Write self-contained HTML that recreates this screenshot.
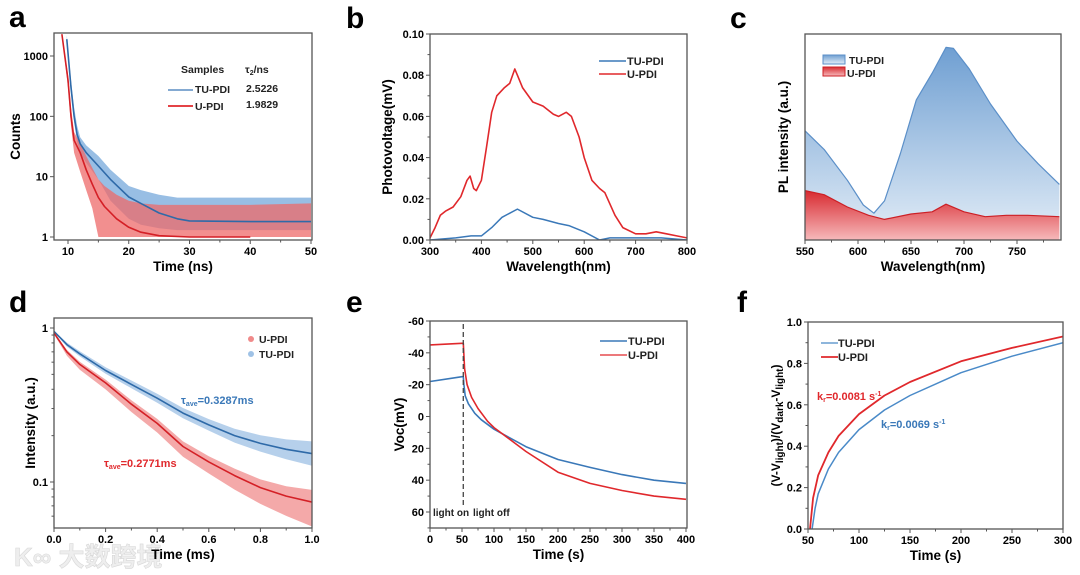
<!DOCTYPE html>
<html><head><meta charset="utf-8"><style>
body{margin:0;background:#fff;width:1080px;height:570px;overflow:hidden}
svg{font-family:"Liberation Sans",Arial,sans-serif;font-weight:bold}
</style></head><body>
<svg id="chart" width="1080" height="570" viewBox="0 0 1080 570" xmlns="http://www.w3.org/2000/svg">
<defs>
<linearGradient id="gb" x1="0" y1="0" x2="0" y2="1"><stop offset="0" stop-color="#6f9fd2"/><stop offset="1" stop-color="#e3edf7"/></linearGradient>
<linearGradient id="gr" x1="0" y1="0" x2="0" y2="1"><stop offset="0" stop-color="#d82a30"/><stop offset="1" stop-color="#f6b9bb"/></linearGradient>
</defs>
<text x="9" y="27" font-size="30">a</text>
<text x="346" y="28" font-size="30">b</text>
<text x="730" y="28" font-size="30">c</text>
<text x="9" y="312" font-size="30">d</text>
<text x="346" y="312" font-size="30">e</text>
<text x="737" y="312" font-size="30">f</text>
<text x="14" y="566" font-size="26" fill="#eeeeee" stroke="#d8d8d8" stroke-width="0.6" font-family="'Liberation Sans','Noto Sans CJK SC',sans-serif">K∞ 大数跨境</text>
</svg>
<script>
// ---- panel a data ----
const aBlueT=[9.8,10.5,11,11.5,12,13,15,17,20,22,25,28,30,40,50];
const aBlueFit=[1900,300,100,50,35,25,15,9,4.6,3.6,2.5,2.0,1.85,1.8,1.8];
const aBlueUp=[2200,400,140,70,45,33,22,13,7,6,5,4.5,4.5,4.5,4.5];
const aBlueLo=[1700,250,80,38,25,17,9,4,2,1.6,1.4,1.3,1.3,1.3,1.3];
const aRedT=[9,10,10.5,11,12,13,14,15,16,18,20,22,25,30,40,50];
const aRedFit=[2300,400,100,40,25,13,7.5,4.5,3.2,2.0,1.45,1.2,1.05,1.0,1.0,1.0];
const aRedUp=[2400,500,140,55,35,22,14,9,7,5,4,3.6,3.4,3.4,3.4,3.6];
const aRedLo=[2100,300,70,25,12,6,3,1,1,1,1,1,1,1,1,1];
// ---- panel b data ----
const bRedW=[300,310,320,330,345,360,372,378,385,390,400,410,420,430,445,455,465,470,480,500,520,540,550,565,575,590,600,615,630,640,660,675,700,720,740,760,780,800];
const bRedV=[0.001,0.006,0.012,0.014,0.016,0.021,0.029,0.031,0.025,0.024,0.029,0.045,0.062,0.070,0.074,0.076,0.083,0.080,0.074,0.067,0.065,0.061,0.060,0.062,0.060,0.050,0.040,0.029,0.025,0.023,0.012,0.006,0.003,0.003,0.004,0.003,0.002,0.001];
const bBlueW=[300,350,380,400,420,440,470,500,520,550,570,600,630,650,700,750,800];
const bBlueV=[0.000,0.001,0.002,0.002,0.006,0.011,0.015,0.011,0.010,0.008,0.007,0.004,0.000,0.001,0.001,0.001,0.000];
// ---- panel c data ----
const cBlueW=[550,568,590,605,615,625,640,655,670,683,690,705,725,750,770,790];
const cBlueV=[0.53,0.44,0.29,0.17,0.13,0.19,0.42,0.68,0.81,0.935,0.93,0.83,0.66,0.48,0.37,0.27];
const cRedW=[550,568,590,610,625,650,670,683,700,720,740,760,790];
const cRedV=[0.24,0.22,0.16,0.12,0.10,0.126,0.137,0.174,0.137,0.113,0.12,0.12,0.113];
// ---- panel d data ----
const dT=[0,0.05,0.1,0.2,0.3,0.4,0.5,0.6,0.7,0.8,0.9,1.0];
const dBlue=[0.95,0.78,0.68,0.53,0.43,0.35,0.28,0.235,0.2,0.178,0.163,0.153];
const dRed=[0.93,0.7,0.58,0.44,0.32,0.24,0.17,0.135,0.11,0.092,0.081,0.074];
const dSpread=[1.01,1.03,1.04,1.05,1.06,1.07,1.08,1.09,1.11,1.13,1.16,1.2];
// ---- panel e data ----
const eBlueT=[0,50,52,53,55,60,70,80,100,150,200,250,300,350,400];
const eBlueV=[-22,-25,-25,-20,-13,-8,-2,2,8,19,27,32,36.5,40,42];
const eRedT=[0,50,52,54,58,65,75,90,100,150,200,250,300,350,400];
const eRedV=[-45,-46,-46,-30,-20,-12,-5,3,7,22,35,42,46.5,50,52];
// ---- panel f data ----
const fRedT=[52,55,60,70,80,100,125,150,200,250,300];
const fRedV=[0,0.15,0.26,0.37,0.45,0.555,0.645,0.71,0.81,0.875,0.93];
const fBlueT=[54,57,60,70,80,100,125,150,200,250,300];
const fBlueV=[0,0.1,0.17,0.29,0.37,0.48,0.575,0.645,0.755,0.835,0.90];

const NS='http://www.w3.org/2000/svg';
const svg=document.getElementById('chart');
function mk(tag,attrs,txt){const e=document.createElementNS(NS,tag);for(const k in attrs)e.setAttribute(k,attrs[k]);if(txt!==undefined)e.textContent=txt;svg.appendChild(e);return e;}
function lin(d0,d1,r0,r1){return v=>r0+(v-d0)*(r1-r0)/(d1-d0);}
function lg(d0,d1,r0,r1){return v=>r0+(Math.log10(v)-Math.log10(d0))*(r1-r0)/(Math.log10(d1)-Math.log10(d0));}
function pts(xs,ys,sx,sy){return xs.map((x,i)=>sx(x).toFixed(1)+','+sy(ys[i]).toFixed(1));}
const BLUE='#3a78b8',RED='#e0282c',LBLUE='#8cb8e2',LRED='#f07272';

function frame(p,name){
  const r=mk('rect',{x:p.x0,y:p.y0,width:p.x1-p.x0,height:p.y1-p.y0,fill:'none',stroke:'#555','stroke-width':1.3});
  
  
}
function xticks(p,sx,vals,labs,minor,name){
  vals.forEach((v,i)=>{
    const t=mk('line',{x1:sx(v),x2:sx(v),y1:p.y1,y2:p.y1+4,stroke:'#555','stroke-width':1});
    
    
    const l=mk('text',{x:sx(v),y:p.y1+15,'font-size':11,'text-anchor':'middle'},labs[i]);
    
    
  });
  (minor||[]).forEach(v=>{
    const t=mk('line',{x1:sx(v),x2:sx(v),y1:p.y1,y2:p.y1+2.5,stroke:'#555','stroke-width':1});
    
    
  });
}
function yticks(p,sy,vals,labs,minor,name){
  vals.forEach((v,i)=>{
    const t=mk('line',{x1:p.x0-4,x2:p.x0,y1:sy(v),y2:sy(v),stroke:'#555','stroke-width':1});
    
    
    if(labs){const l=mk('text',{x:p.x0-6,y:sy(v)+4,'font-size':11,'text-anchor':'end'},labs[i]);
    
    }
  });
  (minor||[]).forEach(v=>{
    const t=mk('line',{x1:p.x0-2.5,x2:p.x0,y1:sy(v),y2:sy(v),stroke:'#555','stroke-width':1});
    
    
  });
}
function titles(p,xt,yt,yx,name){
  const a=mk('text',{x:(p.x0+p.x1)/2,y:p.y1+31,'font-size':13.5,'text-anchor':'middle'},xt);
  
  
  const cy=(p.y0+p.y1)/2;
  const b=mk('text',{x:yx,y:cy,'font-size':13.5,'text-anchor':'middle',transform:`rotate(-90 ${yx} ${cy})`},yt);
  
  
  return b;
}
function clip(id,p){const c=document.createElementNS(NS,'clipPath');c.setAttribute('id',id);const r=document.createElementNS(NS,'rect');r.setAttribute('x',p.x0);r.setAttribute('y',p.y0);r.setAttribute('width',p.x1-p.x0);r.setAttribute('height',p.y1-p.y0);c.appendChild(r);svg.querySelector('defs').appendChild(c);}
function line(xs,ys,sx,sy,col,w,name,cl){
  const e=mk('polyline',{points:pts(xs,ys,sx,sy).join(' '),fill:'none',stroke:col,'stroke-width':w,'stroke-linejoin':'round','clip-path':cl?`url(#${cl})`:''});
  
  
  return e;
}
function band(xs,up,lo,sx,sy,col,name,cl,op){
  const top=pts(xs,up,sx,sy),bot=pts(xs,lo,sx,sy).reverse();
  const e=mk('polygon',{points:top.concat(bot).join(' '),fill:col,opacity:op||0.85,'clip-path':`url(#${cl})`});
  
  
}
function txt(x,y,s,size,col,name,anchor){
  const e=mk('text',{x:x,y:y,'font-size':size,fill:col||'#111','text-anchor':anchor||'start'},s);
  
  
  return e;
}
function legLine(x1,x2,y,col,w,name){
  const e=mk('line',{x1:x1,x2:x2,y1:y,y2:y,stroke:col,'stroke-width':w});
  
  
}

// ===== Panel a =====
(function(){
  const p={x0:54,x1:312,y0:33,y1:240};
  const sx=lin(10,50,68,311),sy=lg(1,1000,237,56);
  clip('ca',p);
  band(aBlueT,aBlueUp,aBlueLo,sx,sy,'#7eaedd','a-tu-pdi-noise','ca',0.8);
  band(aRedT,aRedUp,aRedLo,sx,sy,'#ee6a6a','a-u-pdi-noise','ca',0.75);
  line(aBlueT,aBlueFit,sx,sy,'#2f6aa8',1.6,'a-tu-pdi-fit','ca');
  line(aRedT.filter(t=>t<=40),aRedFit.slice(0,15),sx,sy,'#d41f26',1.6,'a-u-pdi-fit','ca');
  frame(p,'a');
  xticks(p,sx,[10,20,30,40,50],['10','20','30','40','50'],[15,25,35,45],'a');
  yticks(p,sy,[1,10,100,1000],['1','10','100','1000'],[],'a');
  titles(p,'Time (ns)','Counts',20,'a');
  txt(181,73,'Samples',10.5,'#222','a-legend-header');
  const t=txt(245,73,'τ',10.5,'#222','a-legend-tau');
  const s=document.createElementNS(NS,'tspan');s.setAttribute('font-size',7);s.setAttribute('dy',2);s.textContent='2';t.appendChild(s);
  const s2=document.createElementNS(NS,'tspan');s2.setAttribute('dy',-2);s2.textContent='/ns';t.appendChild(s2);
  legLine(168,193,90,BLUE,1.3,'a-legend-tu-pdi-line');
  legLine(168,193,106,RED,1.8,'a-legend-u-pdi-line');
  txt(195,93,'TU-PDI',10.5,'#222','a-legend-tu-pdi');
  txt(195,110,'U-PDI',10.5,'#222','a-legend-u-pdi');
  txt(246,92,'2.5226',10.5,'#222','a-tu-pdi-value');
  txt(246,108,'1.9829',10.5,'#222','a-u-pdi-value');
})();

// ===== Panel b =====
(function(){
  const p={x0:430,x1:687,y0:34,y1:240};
  const sx=lin(300,800,430,687),sy=lin(0,0.1,240,34);
  clip('cb',p);
  line(bBlueW,bBlueV,sx,sy,BLUE,1.5,'b-tu-pdi-line','cb');
  line(bRedW,bRedV,sx,sy,RED,1.6,'b-u-pdi-line','cb');
  frame(p,'b');
  xticks(p,sx,[300,400,500,600,700,800],['300','400','500','600','700','800'],[350,450,550,650,750],'b');
  yticks(p,sy,[0,0.02,0.04,0.06,0.08,0.1],['0.00','0.02','0.04','0.06','0.08','0.10'],[0.01,0.03,0.05,0.07,0.09],'b');
  titles(p,'Wavelength(nm)','Photovoltage(mV)',392,'b');
  legLine(599,626,61,BLUE,1.4,'b-legend-tu-pdi-line');
  legLine(599,626,74,RED,1.6,'b-legend-u-pdi-line');
  txt(627,65,'TU-PDI',11,'#222','b-legend-tu-pdi');
  txt(627,78,'U-PDI',11,'#222','b-legend-u-pdi');
})();

// ===== Panel c =====
(function(){
  const p={x0:805,x1:1061,y0:34,y1:240};
  const sx=lin(550,750,805,1017),sy=lin(0,1,240,34);
  clip('cc',p);
  const bp=pts(cBlueW,cBlueV,sx,sy);
  const ba=mk('polygon',{points:bp.concat([sx(790)+','+sy(0),sx(550)+','+sy(0)]).join(' '),fill:'url(#gb)','clip-path':'url(#cc)'});
  
  
  line(cBlueW,cBlueV,sx,sy,'#5b8fc8',1.2,'c-tu-pdi-line','cc');
  const rp=pts(cRedW,cRedV,sx,sy);
  const ra=mk('polygon',{points:rp.concat([sx(790)+','+sy(0),sx(550)+','+sy(0)]).join(' '),fill:'url(#gr)','clip-path':'url(#cc)'});
  
  
  line(cRedW,cRedV,sx,sy,'#cc2026',1.2,'c-u-pdi-line','cc');
  frame(p,'c');
  xticks(p,sx,[550,600,650,700,750],['550','600','650','700','750'],[575,625,675,725,775],'c');
  titles(p,'Wavelength(nm)','PL intensity (a.u.)',788,'c');
  const l1=mk('rect',{x:823,y:55,width:22,height:9,fill:'url(#gb)',stroke:'#5b8fc8','stroke-width':1});
  
  
  const l2=mk('rect',{x:823,y:67,width:22,height:9,fill:'url(#gr)',stroke:'#cc2026','stroke-width':1});
  
  
  txt(849,64,'TU-PDI',10.5,'#222','c-legend-tu-pdi');
  txt(847,77,'U-PDI',10.5,'#222','c-legend-u-pdi');
})();

// ===== Panel d =====
(function(){
  const p={x0:54,x1:312,y0:318,y1:528};
  const sx=lin(0,1,54,312),sy=lg(0.1,1,482,328);
  clip('cd',p);
  band(dT,dBlue.map((v,i)=>v*dSpread[i]),dBlue.map((v,i)=>v/dSpread[i]),sx,sy,'#a9c8e8','d-tu-pdi-scatter','cd');
  band(dT,dRed.map((v,i)=>v*dSpread[i]),dRed.map((v,i)=>v/(dSpread[i]*dSpread[i])),sx,sy,'#f29a9a','d-u-pdi-scatter','cd');
  line(dT,dBlue,sx,sy,'#2e6aa8',1.6,'d-tu-pdi-fit','cd');
  line(dT,dRed,sx,sy,'#d42026',1.6,'d-u-pdi-fit','cd');
  frame(p,'d');
  xticks(p,sx,[0,0.2,0.4,0.6,0.8,1],['0.0','0.2','0.4','0.6','0.8','1.0'],[0.1,0.3,0.5,0.7,0.9],'d');
  yticks(p,sy,[0.1,1],['0.1','1'],[0.06,0.07,0.08,0.09,0.2,0.3,0.4,0.5,0.6,0.7,0.8,0.9],'d');
  titles(p,'Time (ms)','Intensity (a.u.)',35,'d');
  const c1=mk('circle',{cx:251,cy:339,r:3,fill:'#f08a8a'});
  
  
  const c2=mk('circle',{cx:251,cy:354,r:3,fill:'#9fc2e6'});
  
  
  txt(259,343,'U-PDI',10.5,'#222','d-legend-u-pdi');
  txt(259,358,'TU-PDI',10.5,'#222','d-legend-tu-pdi');
  const a=txt(181,404,'τ',11,'#3a78b8','d-tu-pdi-annotation');
  let s=document.createElementNS(NS,'tspan');s.setAttribute('font-size',7);s.setAttribute('dy',2);s.textContent='ave';a.appendChild(s);
  s=document.createElementNS(NS,'tspan');s.setAttribute('dy',-2);s.textContent='=0.3287ms';a.appendChild(s);
  const b=txt(104,467,'τ',11,'#e0282c','d-u-pdi-annotation');
  s=document.createElementNS(NS,'tspan');s.setAttribute('font-size',7);s.setAttribute('dy',2);s.textContent='ave';b.appendChild(s);
  s=document.createElementNS(NS,'tspan');s.setAttribute('dy',-2);s.textContent='=0.2771ms';b.appendChild(s);
})();

// ===== Panel e =====
(function(){
  const p={x0:430,x1:687,y0:321,y1:528};
  const sx=lin(0,400,430,686),sy=lin(-60,60,321,512);
  clip('ce',p);
  line(eBlueT,eBlueV,sx,sy,BLUE,1.6,'e-tu-pdi-line','ce');
  line(eRedT,eRedV,sx,sy,RED,1.6,'e-u-pdi-line','ce');
  const d=mk('line',{x1:sx(52),x2:sx(52),y1:p.y0+3,y2:p.y1-22,stroke:'#444','stroke-width':1.3,'stroke-dasharray':'5,3'});
  
  
  frame(p,'e');
  xticks(p,sx,[0,50,100,150,200,250,300,350,400],['0','50','100','150','200','250','300','350','400'],[25,75,125,175,225,275,325,375],'e');
  yticks(p,sy,[-60,-40,-20,0,20,40,60],['-60','-40','-20','0','20','40','60'],[-50,-30,-10,10,30,50,70],'e');
  titles(p,'Time (s)','Voc(mV)',404,'e');
  txt(433,516,'light on',10,'#222','e-light-on-label');
  txt(473,516,'light off',10,'#222','e-light-off-label');
  legLine(600,627,341,BLUE,1.6,'e-legend-tu-pdi-line');
  legLine(600,627,355,RED,1.2,'e-legend-u-pdi-line');
  txt(628,345,'TU-PDI',11,'#222','e-legend-tu-pdi');
  txt(628,359,'U-PDI',11,'#222','e-legend-u-pdi');
})();

// ===== Panel f =====
(function(){
  const p={x0:808,x1:1063,y0:322,y1:529};
  const sx=lin(50,300,808,1063),sy=lin(0,1,529,322);
  clip('cf',p);
  line(fBlueT,fBlueV,sx,sy,'#4a8ac8',1.5,'f-tu-pdi-line','cf');
  line(fRedT,fRedV,sx,sy,RED,1.8,'f-u-pdi-line','cf');
  frame(p,'f');
  xticks(p,sx,[50,100,150,200,250,300],['50','100','150','200','250','300'],[75,125,175,225,275],'f');
  yticks(p,sy,[0,0.2,0.4,0.6,0.8,1],['0.0','0.2','0.4','0.6','0.8','1.0'],[0.1,0.3,0.5,0.7,0.9],'f');
  const yt=titles(p,'Time (s)','',780,'f');
  yt.setAttribute('font-size',12);
  yt.textContent='';
  const parts=[['(V-V',0],['light',1],[')/(V',0],['dark',1],['-V',0],['light',1],[')',0]];
  parts.forEach(([t,sub],i)=>{const s=document.createElementNS(NS,'tspan');if(sub){s.setAttribute('font-size',10);}s.setAttribute('dy',sub?3:(i?-3:0));s.textContent=t;yt.appendChild(s);});
  legLine(821,838,343,'#4a8ac8',1.3,'f-legend-tu-pdi-line');
  legLine(821,838,357,RED,1.8,'f-legend-u-pdi-line');
  txt(838,347,'TU-PDI',11,'#222','f-legend-tu-pdi');
  txt(838,361,'U-PDI',11,'#222','f-legend-u-pdi');
  const a=txt(817,400,'k',11,'#e0282c','f-u-pdi-annotation');
  let s=document.createElementNS(NS,'tspan');s.setAttribute('font-size',7);s.setAttribute('dy',2);s.textContent='r';a.appendChild(s);
  s=document.createElementNS(NS,'tspan');s.setAttribute('dy',-2);s.textContent='=0.0081 s';a.appendChild(s);
  s=document.createElementNS(NS,'tspan');s.setAttribute('font-size',7);s.setAttribute('dy',-4);s.textContent='-1';a.appendChild(s);
  const b=txt(881,428,'k',11,'#3a78b8','f-tu-pdi-annotation');
  s=document.createElementNS(NS,'tspan');s.setAttribute('font-size',7);s.setAttribute('dy',2);s.textContent='r';b.appendChild(s);
  s=document.createElementNS(NS,'tspan');s.setAttribute('dy',-2);s.textContent='=0.0069 s';b.appendChild(s);
  s=document.createElementNS(NS,'tspan');s.setAttribute('font-size',7);s.setAttribute('dy',-4);s.textContent='-1';b.appendChild(s);
})();
</script>
</body></html>
